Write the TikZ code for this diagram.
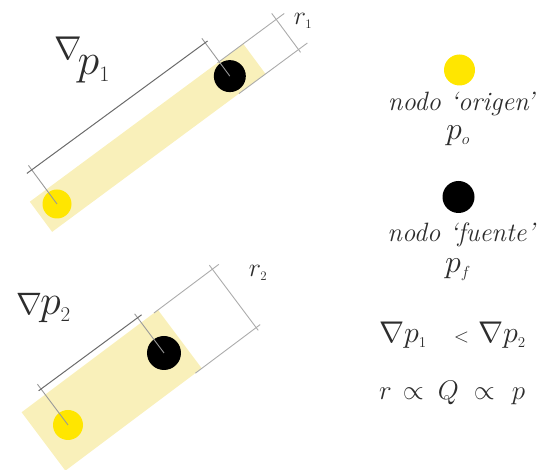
\RequirePackage{fix-cm}
\documentclass[tikz,border=0pt]{standalone}
\usepackage{amsmath,amssymb}
\usepackage{tikz}
\usetikzlibrary{positioning}

\definecolor{bandyellow}{RGB}{249,240,186}
\definecolor{dotyellow}{RGB}{255,230,0}
\definecolor{inkgray}{RGB}{45,45,45}

\begin{document}
\begin{tikzpicture}[x=1pt, y=1pt,
    band/.style={fill=bandyellow, draw=none},
    origen/.style={circle, fill=dotyellow, inner sep=0pt, minimum size=29pt},
    fuente/.style={circle, fill=black, inner sep=0pt, minimum size=32pt},
    dimline/.style={draw=black!58, line width=1pt},
    extline/.style={draw=black!40, line width=0.9pt},
    rline/.style={draw=black!33, line width=0.9pt},
    legtext/.style={font=\fontsize{26.5}{30}\selectfont\itshape, text=inkgray, inner sep=0pt, anchor=base},
    mathtext/.style={text=inkgray, inner sep=0pt, anchor=base}
]
    \useasboundingbox (0,0) rectangle (538,470);

    % upper band, small gradient
    \begin{scope}[shift={(57,266)}, rotate=36.5]
        \fill[band] (-20.5,-19.5) rectangle (245,18);
        \node[origen] (orig1) at (0,0) {};
        \node[fuente] (fuen1) at (215,0) {};
        \coordinate (orig1ext) at (0,48);
        \coordinate (fuen1ext) at (215,47);
        \coordinate (dim1a) at (-6,42.5);
        \coordinate (dim1b) at (218,41.5);
        \coordinate (rup1a) at (213,18);
        \coordinate (rup1b) at (296,18);
        \coordinate (rlo1a) at (212,-19.5);
        \coordinate (rlo1b) at (297,-19.5);
        \coordinate (rdim1a) at (286,-23);
        \coordinate (rdim1b) at (286,25.5);
    \end{scope}
    \draw[extline] (orig1.center) -- (orig1ext);
    \draw[extline] (fuen1.center) -- (fuen1ext);
    \draw[dimline] (dim1a) -- (dim1b);
    \draw[rline] (rup1a) -- (rup1b);
    \draw[rline] (rlo1a) -- (rlo1b);
    \draw[rline] (rdim1a) -- (rdim1b);

    % lower band, large gradient
    \begin{scope}[shift={(68,45)}, rotate=36.87]
        \fill[band] (-29.5,-35) rectangle (141,38);
        \node[origen, minimum size=30pt] (orig2) at (0,0) {};
        \node[fuente, minimum size=34pt] (fuen2) at (120,0) {};
        \coordinate (orig2ext) at (0,51);
        \coordinate (fuen2ext) at (120,49);
        \coordinate (dim2a) at (-3,45);
        \coordinate (dim2b) at (125,44);
        \coordinate (rup2a) at (136,38);
        \coordinate (rup2b) at (217,38);
        \coordinate (rlo2a) at (133,-35);
        \coordinate (rlo2b) at (214,-35);
        \coordinate (rdim2a) at (209,-38.5);
        \coordinate (rdim2b) at (209,43);
    \end{scope}
    \draw[extline] (orig2.center) -- (orig2ext);
    \draw[extline] (fuen2.center) -- (fuen2ext);
    \draw[dimline] (dim2a) -- (dim2b);
    \draw[rline] (rup2a) -- (rup2b);
    \draw[rline] (rlo2a) -- (rlo2b);
    \draw[rline] (rdim2a) -- (rdim2b);

    % labels on the bands
    \node[mathtext, anchor=base west] (grad1) at (54,410) {\fontsize{33}{40}\selectfont$\nabla$\hspace{-4pt}\raisebox{-15pt}{\fontsize{44}{50}\selectfont$p_{\scriptscriptstyle 1}$}};
    \node[mathtext, anchor=base west] (grad2) at (16,155) {\fontsize{31}{40}\selectfont$\nabla$\hspace{-2pt}\fontsize{42}{50}\selectfont$p_{\scriptscriptstyle 2}$};
    \node[mathtext] (r1) at (303,445) {\fontsize{26}{30}\selectfont$r_{\scriptscriptstyle 1}$};
    \node[mathtext] (r2) at (258,193) {\fontsize{26}{30}\selectfont$r_{\scriptscriptstyle 2}$};

    % legend
    \node[origen, minimum size=31pt] (legorig) at (459.5,400) {};
    \node[legtext] (origtext) at (461,359) {nodo `origen'};
    \node[mathtext] (porig) at (458,330) {\fontsize{32}{36}\selectfont$p_{\scriptscriptstyle o}$};
    \node[fuente] (legfuen) at (458.5,273) {};
    \node[legtext] (fuentext) at (461,228) {nodo `fuente'};
    \node[mathtext] (pfuen) at (458,197) {\fontsize{32}{36}\selectfont$p_{\scriptscriptstyle f}$};
    \node[mathtext, anchor=base west] (compare) at (379,127) {{\fontsize{30}{36}\selectfont$\nabla p_{\scriptscriptstyle 1}$}\hspace{27pt}{\fontsize{20}{24}\selectfont$<$}\hspace{9pt}{\fontsize{30}{36}\selectfont$\nabla p_{\scriptscriptstyle 2}$}};
    \node[mathtext, anchor=base west] (propto) at (379,70) {\fontsize{27}{32}\selectfont$r\hspace{11pt}{\propto}\hspace{14pt}Q\hspace{15pt}{\propto}\hspace{17pt}p$};
\end{tikzpicture}
\end{document}
